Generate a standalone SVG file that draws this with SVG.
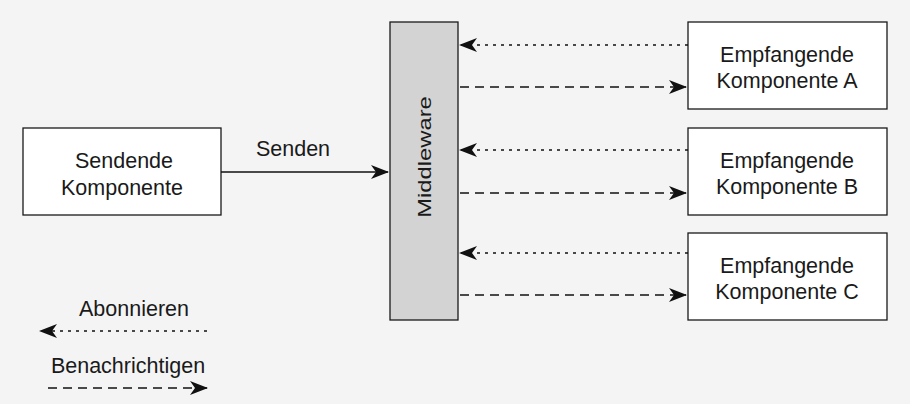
<svg xmlns="http://www.w3.org/2000/svg" width="910" height="404" viewBox="0 0 910 404">
<defs>
<style>
.box{fill:#fff;stroke:#1a1a1a;stroke-width:1.3}
.mw{fill:#d3d3d3;stroke:#1a1a1a;stroke-width:1.3}
text{font-family:"Liberation Sans",Arial,sans-serif;font-size:21.5px;fill:#1a1a1a;text-anchor:middle}
.ln{stroke:#111;stroke-width:1.5;fill:none}
.dot{stroke-dasharray:3 5}
.dash{stroke-dasharray:9 6}
</style>
<marker id="ah" viewBox="0 0 18 14" refX="17" refY="7" markerWidth="18" markerHeight="14" markerUnits="userSpaceOnUse" orient="auto-start-reverse">
<path d="M0,0 L18,7 L0,14 L5,7 Z" fill="#111"/>
</marker>
</defs>
<rect width="910" height="404" fill="#f4f4f4"/>
<g id="sender">
<rect class="box" x="23" y="128" width="198" height="87"/>
<text x="124" y="168">Sendende</text>
<text x="122" y="195">Komponente</text>
</g>
<g id="middleware">
<rect class="mw" x="390" y="22" width="68" height="298"/>
<text transform="translate(431,157) rotate(-90) scale(1.36,1)" style="font-size:17.5px">Middleware</text>
</g>
<g id="recvA">
<rect class="box" x="688" y="22" width="199" height="87"/>
<text x="787" y="62">Empfangende</text>
<text x="787" y="88">Komponente A</text>
</g>
<g id="recvB">
<rect class="box" x="688" y="128" width="199" height="87"/>
<text x="787" y="168">Empfangende</text>
<text x="787" y="194">Komponente B</text>
</g>
<g id="recvC">
<rect class="box" x="688" y="233" width="199" height="87"/>
<text x="787" y="273">Empfangende</text>
<text x="787" y="299">Komponente C</text>
</g>
<g id="connectors">
<line class="ln" x1="221" y1="172" x2="388" y2="172" marker-end="url(#ah)"/>
<text x="293" y="156">Senden</text>
<line class="ln dot" x1="688" y1="45" x2="460" y2="45" marker-end="url(#ah)"/>
<line class="ln dash" x1="460" y1="87" x2="686" y2="87" marker-end="url(#ah)"/>
<line class="ln dot" x1="688" y1="150" x2="460" y2="150" marker-end="url(#ah)"/>
<line class="ln dash" x1="460" y1="193" x2="686" y2="193" marker-end="url(#ah)"/>
<line class="ln dot" x1="688" y1="253" x2="460" y2="253" marker-end="url(#ah)"/>
<line class="ln dash" x1="460" y1="295" x2="686" y2="295" marker-end="url(#ah)"/>
</g>
<g id="legend">
<text x="134" y="316">Abonnieren</text>
<line class="ln dot" x1="207" y1="331" x2="40" y2="331" marker-end="url(#ah)"/>
<text x="128" y="373">Benachrichtigen</text>
<line class="ln dash" x1="48" y1="388" x2="207" y2="388" marker-end="url(#ah)"/>
</g>
</svg>
